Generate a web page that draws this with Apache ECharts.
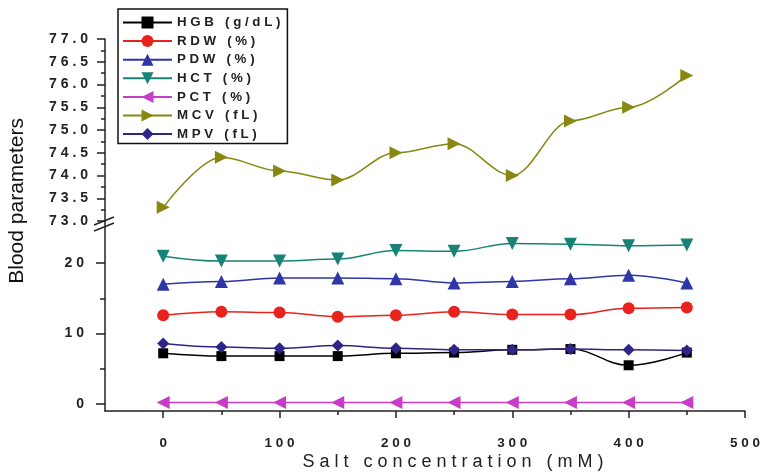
<!DOCTYPE html>
<html>
<head>
<meta charset="utf-8">
<script src="https://cdn.jsdelivr.net/npm/echarts@6/dist/echarts.min.js"></script>
<style>
  html, body { margin: 0; padding: 0; background: #fff; }
  #chart { width: 767px; height: 473px; }
</style>
</head>
<body>
<div id="chart"></div>
<script>
// Salt concentration (mM)
const concentrations = [0, 50, 100, 150, 200, 250, 300, 350, 400, 450];

// Blood parameters per concentration
const hgb = [7.2, 6.8, 6.8, 6.8, 7.2, 7.3, 7.7, 7.8, 5.5, 7.3];
const rdw = [12.6, 13.1, 13.0, 12.4, 12.6, 13.1, 12.7, 12.7, 13.6, 13.7];
const pdw = [17.0, 17.4, 17.9, 17.9, 17.8, 17.2, 17.4, 17.8, 18.3, 17.2];
const hct = [21.0, 20.3, 20.3, 20.6, 21.8, 21.7, 22.8, 22.7, 22.5, 22.6];
const pct = [0.2, 0.2, 0.2, 0.2, 0.2, 0.2, 0.2, 0.2, 0.2, 0.2];
const mcv = [73.3, 74.4, 74.1, 73.9, 74.5, 74.7, 74.0, 75.2, 75.5, 76.2];
const mpv = [8.6, 8.1, 7.9, 8.3, 7.9, 7.7, 7.7, 7.8, 7.7, 7.6];

// Tick positions and labels
const xMajorTicks = [0, 100, 200, 300, 400, 500];
const xMinorTicks = [50, 150, 250, 350, 450];
const upperMajorTicks = [73.0, 73.5, 74.0, 74.5, 75.0, 75.5, 76.0, 76.5, 77.0];
const upperMinorTicks = [73.25, 73.75, 74.25, 74.75, 75.25, 75.75, 76.25, 76.75];
const lowerMajorTicks = [0, 10, 20];
const lowerMinorTicks = [5, 15];

const FONT = '"Liberation Sans", Arial, sans-serif';
const AXIS_COLOR = '#222';

// spread characters apart for the wide-tracked lettering
const spaced = s => String(s).split('').join(' ');

const zip = ys => concentrations.map((x, i) => [x, ys[i]]);

const chart = echarts.init(document.getElementById('chart'), null, { renderer: 'canvas' });

const mainLine = () => ({ show: true, onZero: false, lineStyle: { color: AXIS_COLOR, width: 1.5 } });
const noLine = () => ({ show: false, onZero: false });
const tickStyle = { color: AXIS_COLOR, width: 1.5 };

function lineSeries(name, data, color, symbol, size, rotate, xi, yi, smooth) {
  return {
    name, type: 'line', xAxisIndex: xi, yAxisIndex: yi,
    data: zip(data), smooth, smoothMonotone: 'x',
    symbol, symbolSize: size, symbolRotate: rotate, showSymbol: true,
    lineStyle: { color, width: 1.5 },
    itemStyle: { color, borderWidth: 0 },
    emphasis: { disabled: true },
    animation: false
  };
}

const option = {
  animation: false,
  textStyle: { fontFamily: FONT },
  grid: [
    { left: 105, width: 640, top: 39, height: 182, outerBoundsMode: 'none', containLabel: false },
    { left: 105, width: 640, top: 221, height: 190, outerBoundsMode: 'none', containLabel: false }
  ],
  xAxis: [
    { type: 'value', gridIndex: 0, min: -50, max: 500, show: false },
    {
      type: 'value', gridIndex: 1, min: -50, max: 500, position: 'bottom',
      axisLine: mainLine(), splitLine: { show: false },
      axisTick: { show: true, customValues: xMajorTicks, length: 7, lineStyle: tickStyle },
      axisLabel: { customValues: xMajorTicks, margin: 25, color: '#222', fontSize: 13.5, fontWeight: 'bold', formatter: v => spaced(v) }
    },
    {
      type: 'value', gridIndex: 1, min: -50, max: 500, position: 'bottom',
      axisLine: noLine(), splitLine: { show: false }, axisLabel: { show: false },
      axisTick: { show: true, customValues: xMinorTicks, length: 4, lineStyle: tickStyle }
    }
  ],
  yAxis: [
    {
      type: 'value', gridIndex: 0, min: 73, max: 77, position: 'left',
      axisLine: mainLine(), splitLine: { show: false },
      axisTick: { show: true, customValues: upperMajorTicks, length: 8, lineStyle: tickStyle },
      axisLabel: { customValues: upperMajorTicks, margin: 17, color: '#222', fontSize: 14, fontWeight: 'bold', formatter: v => spaced(v.toFixed(1)) }
    },
    {
      type: 'value', gridIndex: 0, min: 73, max: 77, position: 'left',
      axisLine: noLine(), splitLine: { show: false }, axisLabel: { show: false },
      axisTick: { show: true, customValues: upperMinorTicks, length: 4, lineStyle: tickStyle }
    },
    {
      type: 'value', gridIndex: 1, min: -1, max: 26, position: 'left',
      axisLine: mainLine(), splitLine: { show: false },
      axisTick: { show: true, customValues: lowerMajorTicks, length: 9, lineStyle: tickStyle },
      axisLabel: { customValues: lowerMajorTicks, margin: 21, color: '#222', fontSize: 14, fontWeight: 'bold', formatter: v => spaced(v) }
    },
    {
      type: 'value', gridIndex: 1, min: -1, max: 26, position: 'left',
      axisLine: noLine(), splitLine: { show: false }, axisLabel: { show: false },
      axisTick: { show: true, customValues: lowerMinorTicks, length: 5, lineStyle: tickStyle }
    }
  ],
  legend: {
    orient: 'vertical', left: 118, top: 9,
    padding: [6, 7, 2, 4],
    itemWidth: 49, itemHeight: 15, itemGap: 3.6,
    borderColor: '#111', borderWidth: 1.5,
    backgroundColor: '#fff',
    selectedMode: false,
    textStyle: { fontSize: 13.3, fontWeight: 'bold', color: '#222', fontFamily: FONT, lineHeight: 15 },
    formatter: name => spaced(name),
    data: ['HGB (g/dL)', 'RDW (%)', 'PDW (%)', 'HCT (%)', 'PCT (%)', 'MCV (fL)', 'MPV (fL)']
  },
  graphic: [
    {
      type: 'text', left: 7, top: 118, rotation: Math.PI / 2,
      style: { text: 'Blood parameters', font: '21px ' + FONT, fill: '#111' }
    },
    {
      type: 'text', x: 453, y: 462,
      style: { text: spaced('Salt concentration (mM)'), font: '18px ' + FONT, fill: '#222', align: 'center', verticalAlign: 'middle' }
    },
    // axis break marks
    { type: 'line', shape: { x1: 94, y1: 225, x2: 114, y2: 217 }, style: { stroke: AXIS_COLOR, lineWidth: 1.5 }, z: 10 },
    { type: 'line', shape: { x1: 94, y1: 231, x2: 114, y2: 223 }, style: { stroke: AXIS_COLOR, lineWidth: 1.5 }, z: 10 }
  ],
  series: [
    lineSeries('HGB (g/dL)', hgb, '#000000', 'rect', 10, 0, 1, 2, 0.4),
    lineSeries('RDW (%)', rdw, '#e8221c', 'circle', 12, 0, 1, 2, 0.4),
    lineSeries('PDW (%)', pdw, '#2f36a8', 'triangle', 13, 0, 1, 2, 0.4),
    lineSeries('HCT (%)', hct, '#178276', 'triangle', 13, 180, 1, 2, 0.4),
    lineSeries('PCT (%)', pct, '#c83cc8', 'triangle', 13, 90, 1, 2, 0.4),
    lineSeries('MCV (fL)', mcv, '#878712', 'triangle', 13, -90, 0, 0, 0.35),
    lineSeries('MPV (fL)', mpv, '#2e2686', 'diamond', 12, 0, 1, 2, 0.4)
  ]
};

chart.setOption(option);
</script>
</body>
</html>
